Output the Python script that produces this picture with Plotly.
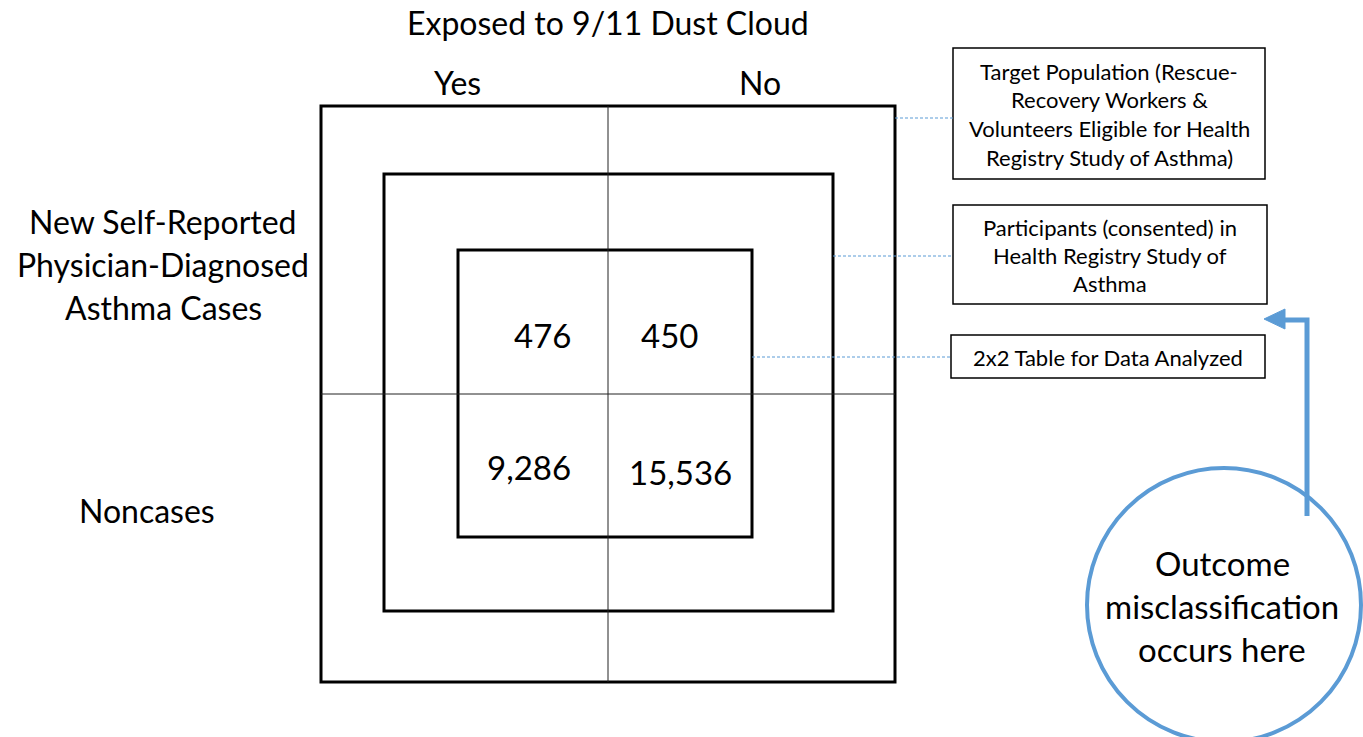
import plotly.graph_objects as go

# ---- data ----
exposure_title = "Exposed to 9/11 Dust Cloud"
exposure_levels = ["Yes", "No"]
outcome_levels = [["New Self-Reported", "Physician-Diagnosed", "Asthma Cases"], ["Noncases"]]
cell_counts = [476, 450, 9286, 15536]  # cases-yes, cases-no, noncases-yes, noncases-no
box_labels = [
    ["Target Population (Rescue-", "Recovery Workers &", "Volunteers Eligible for Health", "Registry Study of Asthma)"],
    ["Participants (consented) in", "Health Registry Study of", "Asthma"],
    ["2x2 Table for Data Analyzed"],
]
note_text = ["Outcome", "misclassification", "occurs here"]

W, H = 1363, 737
FONT = "Lato, 'Open Sans', sans-serif"
BLUE = "#5B9BD5"

fig = go.Figure()
fig.add_trace(go.Scatter(x=[0], y=[0], mode="markers", marker=dict(opacity=0), hoverinfo="skip", showlegend=False))

shapes = []
squares = [(321, 106, 895, 682), (384, 174, 833, 611), (458, 250, 752, 537)]
for x0, y0, x1, y1 in squares:
    shapes.append(dict(type="rect", x0=x0, y0=y0, x1=x1, y1=y1, line=dict(color="black", width=3)))
shapes.append(dict(type="line", x0=608, y0=106, x1=608, y1=682, line=dict(color="#222", width=1)))
shapes.append(dict(type="line", x0=321, y0=394, x1=895, y1=394, line=dict(color="#222", width=1)))

boxes = [(953, 48, 1265, 179), (953, 205, 1267, 304), (951, 335, 1265, 378)]
for x0, y0, x1, y1 in boxes:
    shapes.append(dict(type="rect", x0=x0, y0=y0, x1=x1, y1=y1, line=dict(color="black", width=1.5)))

connectors = [(895, 118, 953), (833, 256, 953), (752, 357, 951)]
for xa, yy, xb in connectors:
    shapes.append(dict(type="line", x0=xa, y0=yy, x1=xb, y1=yy, line=dict(color=BLUE, width=1, dash="3px,2px")))

shapes.append(dict(type="circle", x0=1087, y0=468, x1=1361, y1=742, line=dict(color=BLUE, width=4)))
shapes.append(dict(type="path", path="M 1307 516 L 1307 320 L 1282 320", line=dict(color=BLUE, width=5)))
shapes.append(dict(type="path", path="M 1264 319 L 1285 309 L 1285 329 Z", fillcolor=BLUE, line=dict(color=BLUE, width=1)))

annotations = []
def txt(x, y, s, size, **kw):
    annotations.append(dict(x=x, y=y, text=s, showarrow=False, xref="x", yref="y",
                            font=dict(family=FONT, size=size, color="black"), **kw))

def block(x, y_first, lines, spacing, size):
    for i, s in enumerate(lines):
        txt(x, y_first + i * spacing, s, size)

txt(608, 22, exposure_title, 32)
txt(457, 82, exposure_levels[0], 32)
txt(760, 82, exposure_levels[1], 32)
block(163, 221, outcome_levels[0], 43, 32)
block(147, 510, outcome_levels[1], 43, 32)

cell_pos = [(542, 335), (669, 335), (529, 467), (680, 472)]
for (x, y), v in zip(cell_pos, cell_counts):
    txt(x, y, f"{v:,}", 33)

block(1109, 71, box_labels[0], 28.7, 22)
block(1110, 227, box_labels[1], 28, 22)
block(1108, 357, box_labels[2], 28, 22)

block(1222, 563, note_text, 43, 33)

fig.update_layout(
    width=W, height=H, margin=dict(l=0, r=0, t=0, b=0),
    paper_bgcolor="white", plot_bgcolor="white",
    xaxis=dict(range=[0, W], visible=False, fixedrange=True),
    yaxis=dict(range=[H, 0], visible=False, fixedrange=True),
    shapes=shapes, annotations=annotations, showlegend=False,
)
fig.write_html("out.html", config={"displayModeBar": False},
               post_script="document.body.style.margin='0';document.body.style.overflow='hidden';")
